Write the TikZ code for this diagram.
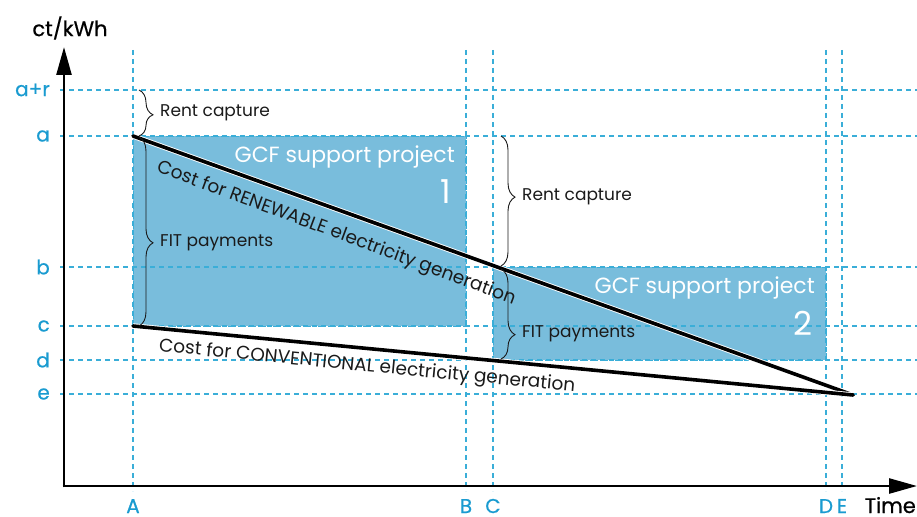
\documentclass[tikz,border=0pt]{standalone}
\usepackage{fontspec}
\setmainfont{Poppins}
\newfontfamily\medfont[FakeBold=0.6]{Poppins}
\usetikzlibrary{arrows.meta,decorations.pathreplacing}
\definecolor{gridblue}{HTML}{3AAED8}
\definecolor{labelblue}{HTML}{1A9BD0}
\definecolor{projfill}{HTML}{79BDDC}
\definecolor{inktext}{HTML}{1A1A1A}

\begin{document}
\begin{tikzpicture}[x=1pt,y=-1pt,
  gridline/.style={draw=gridblue, line width=1.1pt, dash pattern=on 5pt off 4pt},
  axis/.style={draw=black, line width=2.6pt, -{Triangle[length=28pt,width=15pt]}},
  projbox/.style={fill=projfill, draw=gridblue, line width=1pt, dash pattern=on 3pt off 2pt},
  costline/.style={draw=black, line width=3.6pt, line cap=round},
  halo/.style={draw=white, line width=5.4pt},
  bracket/.style={draw=inktext, line width=0.9pt, decorate,
    decoration={brace, amplitude=14pt, aspect=#1}},
  bracket/.default=0.5,
  lbl/.style={font=\fontsize{17}{19}\selectfont, text=inktext, inner sep=0pt, anchor=west},
  tick/.style={font=\medfont\fontsize{20}{22}\selectfont, text=labelblue, inner sep=0pt},
  unitlbl/.style={font=\medfont\fontsize{21}{23}\selectfont, text=black, inner sep=0pt},
  projtitle/.style={font=\fontsize{22}{25}\selectfont, text=white, inner sep=0pt, anchor=base east},
  projnum/.style={font=\fontsize{33}{36}\selectfont, text=white, inner sep=0pt, anchor=base east},
  slopetext/.style={font=\fontsize{18.5}{21}\selectfont, text=inktext, inner sep=0pt, anchor=base}
]
\useasboundingbox (0,0) rectangle (917,516);

% project areas
\path[projbox] (133,136) rectangle (466,326);
\path[projbox] (493,267) rectangle (826,360);

% dashed guide lines for price levels and points in time
\foreach \yy in {90,136,267,326,360,394}
  \draw[gridline] (60,\yy) -- (917,\yy);
\foreach \xx in {133,466,493,826,842}
  \draw[gridline] (\xx,50) -- (\xx,491);

% axes
\coordinate (O) at (64,486);
\coordinate (ytip) at (64,47);
\coordinate (xtip) at (917,486);
\draw[axis] ([yshift=-1.3pt]O) -- (ytip);
\draw[axis] ([xshift=-1.3pt]O) -- (xtip);

\node[unitlbl] (yunit) at (70,28) {ct/kWh};
\node[unitlbl, anchor=base east] (xunit) at (916,513) {Time};

% price levels
\node[tick, anchor=east] (lar) at (50,90) {a+r};
\node[tick, anchor=east] (la) at (50,136) {a};
\node[tick, anchor=east] (lb) at (50,267) {b};
\node[tick, anchor=east] (lc) at (50,326) {c};
\node[tick, anchor=east] (ld) at (50,360) {d};
\node[tick, anchor=east] (le) at (50,394) {e};

% points in time
\node[tick, anchor=base] (lA) at (133,513) {A};
\node[tick, anchor=base] (lB) at (466,513) {B};
\node[tick, anchor=base] (lC) at (493,513) {C};
\node[tick, anchor=base] (lD) at (826,513) {D};
\node[tick, anchor=base] (lE) at (842,513) {E};

% project titles
\node[projtitle] (p1) at (455,162) {GCF support project};
\node[projnum] (n1) at (451,203) {1};
\node[projtitle] (p2) at (815,293) {GCF support project};
\node[projnum] (n2) at (813,335) {2};

% cost curves
\coordinate (ra) at (133,136);
\coordinate (ce) at (853,395);
\coordinate (cc) at (133,326);
\draw[halo] (ra) -- (ce);
\draw[costline] (ra) -- (ce);
\draw[halo] (cc) -- (ce);
\draw[costline] (cc) -- (ce);
\node[slopetext, rotate=-20.4] (rtext) at (334.5,238) {Cost for RENEWABLE electricity generation};
\node[slopetext, rotate=-5.5] (ctext) at (366.7,371.5) {Cost for CONVENTIONAL electricity generation};

% braces and their labels
\draw[bracket=0.54] (139,90) -- (139,136);
\node[lbl] (rc1) at (160,113) {Rent capture};
\draw[bracket=0.56] (139,137) -- (139,326);
\node[lbl] (fit1) at (160,243) {FIT payments};
\draw[bracket=0.47] (501,136) -- (501,266);
\node[lbl] (rc2) at (522,197) {Rent capture};
\draw[bracket=0.73] (501,269) -- (501,359);
\node[lbl] (fit2) at (522,334) {FIT payments};
\end{tikzpicture}
\end{document}
